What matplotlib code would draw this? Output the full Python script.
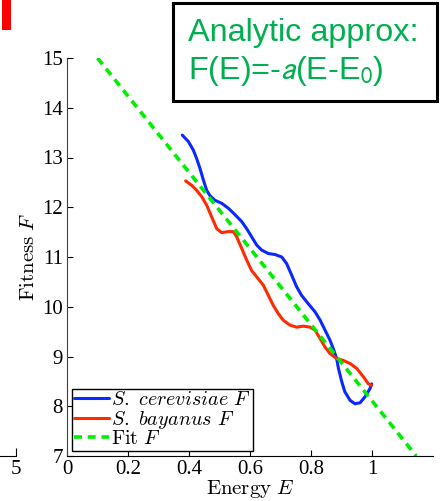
import numpy as np
import matplotlib.pyplot as plt

plt.rcParams['font.family'] = ['Liberation Serif', 'DejaVu Serif']
plt.rcParams['mathtext.fontset'] = 'cm'

# S. cerevisiae fitness vs energy (blue)
cer_E = [0.378, 0.398, 0.414, 0.425, 0.436, 0.447, 0.458, 0.469, 0.485, 0.507,
         0.529, 0.551, 0.573, 0.589, 0.605, 0.622, 0.638, 0.660, 0.682, 0.704,
         0.720, 0.737, 0.753, 0.769, 0.791, 0.813, 0.830, 0.846, 0.862, 0.873,
         0.884, 0.890, 0.901, 0.911, 0.928, 0.944, 0.961, 0.977, 0.993, 0.999]
cer_F = [13.45, 13.32, 13.15, 12.98, 12.78, 12.55, 12.34, 12.23, 12.14, 12.08,
         11.98, 11.85, 11.71, 11.57, 11.41, 11.24, 11.14, 11.07, 11.05, 11.00,
         10.87, 10.63, 10.40, 10.23, 10.06, 9.90, 9.73, 9.53, 9.33, 9.16,
         8.96, 8.76, 8.49, 8.29, 8.12, 8.05, 8.07, 8.19, 8.35, 8.45]

# S. bayanus fitness vs energy (red)
bay_E = [0.389, 0.409, 0.425, 0.442, 0.458, 0.474, 0.491, 0.507, 0.529, 0.545,
         0.556, 0.573, 0.589, 0.605, 0.622, 0.644, 0.660, 0.676, 0.693, 0.709,
         0.731, 0.753, 0.775, 0.797, 0.813, 0.830, 0.846, 0.862, 0.884, 0.906,
         0.928, 0.950, 0.972, 0.988, 0.999]
bay_F = [12.53, 12.44, 12.34, 12.21, 12.04, 11.81, 11.57, 11.49, 11.51, 11.51,
         11.41, 11.17, 10.94, 10.73, 10.60, 10.43, 10.23, 10.03, 9.86, 9.73,
         9.63, 9.59, 9.61, 9.59, 9.53, 9.36, 9.19, 9.06, 8.96, 8.92,
         8.86, 8.76, 8.59, 8.45, 8.42]

# linear fit F(E) = -a(E - E0)
fit_E = [0.1, 1.145]
fit_F = [15.0, 7.0]

xticks = [0, 0.2, 0.4, 0.6, 0.8, 1]
xticklabels = ['0', '0.2', '0.4', '0.6', '0.8', '1']
yticks = [7, 8, 9, 10, 11, 12, 13, 14, 15]

W, H = 440, 501
fig = plt.figure(figsize=(W / 100, H / 100), dpi=100)
ax = fig.add_axes([67 / W, 1 - 456 / H, (433 - 67) / W, (456 - 58) / H])

style = dict(lw=2.2, solid_joinstyle='round', solid_capstyle='round')
ax.plot(cer_E, cer_F, color='#0a28ff', label=r'$S.\ cerevisiae\ F$', **style)
ax.plot(bay_E, bay_F, color='#ff2a00', label=r'$S.\ bayanus\ F$', **style)
ax.plot(fit_E, fit_F, color='#00ee00', lw=2.6, ls=(0, (2.2, 1.6)), label=r'$\mathrm{Fit}\ F$')

ax.set_xlim(0, 1.2)
ax.set_ylim(7, 15)
ax.set_xticks(xticks)
ax.set_xticklabels(xticklabels)
ax.set_yticks(yticks)
ax.tick_params(direction='in', length=4, width=0.8, labelsize=15, pad=3)
ax.spines['top'].set_visible(False)
ax.spines['right'].set_visible(False)
ax.spines['left'].set_color('#404040')
ax.set_xlabel(r'$\mathrm{Energy}\ E$', fontsize=15, labelpad=-1)
ax.set_ylabel(r'$\mathrm{Fitness}\ F$', fontsize=15, labelpad=2)

leg = ax.legend(loc='lower left', bbox_to_anchor=(0.014, 0.013), borderaxespad=0,
                fontsize=14.5, handlelength=1.75, handletextpad=0.08, labelspacing=-0.06,
                borderpad=0.1, fancybox=False, framealpha=1)
leg.get_frame().set_edgecolor('black')
leg.get_frame().set_linewidth(1)

# annotation box
fig.text(188 / W, 1 - 53 / H, 'Analytic approx:\nF(E)=-$a$(E-E$_0$)',
         family='Liberation Sans', fontsize=23.3, color='#00b050',
         math_fontfamily='stixsans', ha='left', va='center', linespacing=1.25)
box = plt.Rectangle((173 / W, 1 - 101 / H), (437 - 173) / W, (101 - 3) / H,
                    transform=fig.transFigure, fill=False, ec='black', lw=2.2)
fig.add_artist(box)

# fragments of neighbouring panel
fig.text(-0.032, 1 - 30 / H, '1', family='Roboto', fontweight='bold',
         fontsize=46, color='#ff0000', ha='left', va='baseline')
ax0 = fig.add_axes([-0.2, 1 - 456 / H, 0.2 + 16 / W, 0.001])
ax0.set_xlim(0, 5)
ax0.set_xticks([5])
ax0.set_yticks([])
for s in ['top', 'right', 'left']:
    ax0.spines[s].set_visible(False)
ax0.tick_params(direction='in', length=6, width=0.8, labelsize=15, pad=3)

fig.savefig('out.png', dpi=100)
